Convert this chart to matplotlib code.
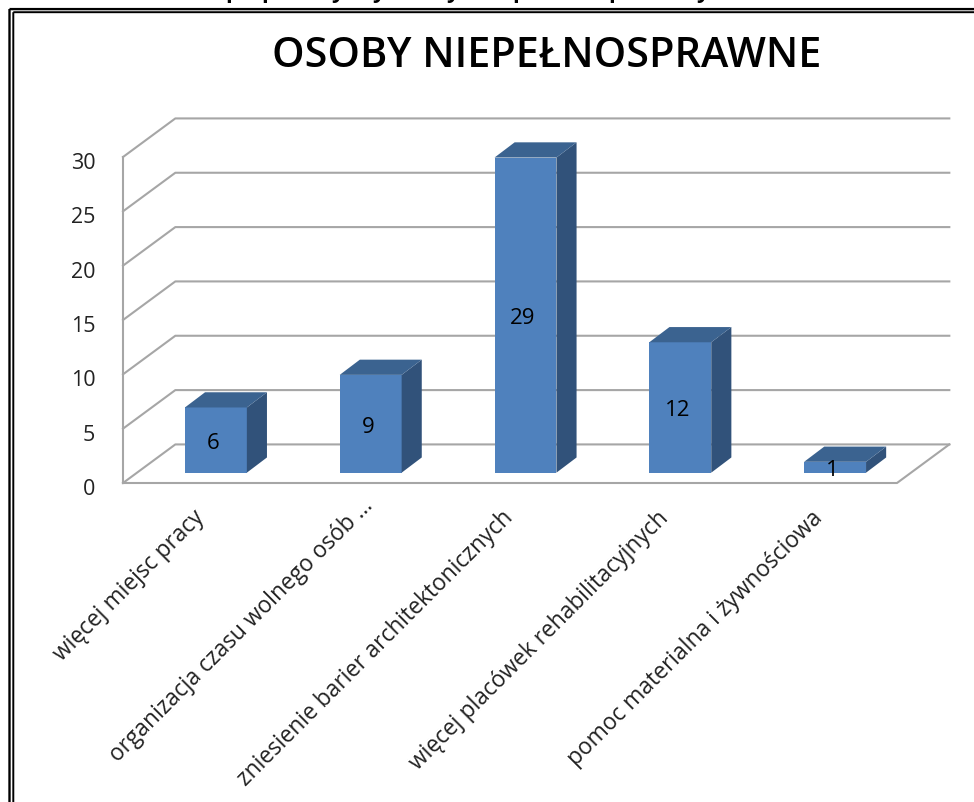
import matplotlib
matplotlib.use('Agg')
import matplotlib.pyplot as plt
from matplotlib.lines import Line2D
from matplotlib.patches import Polygon

categories = ['więcej miejsc pracy', 'organizacja czasu wolnego osób ...',
              'zniesienie barier architektonicznych', 'więcej placówek rehabilitacyjnych',
              'pomoc materialna i żywnościowa']
values = [6, 9, 29, 12, 1]
y_ticks = [0, 5, 10, 15, 20, 25, 30]
title = 'OSOBY NIEPEŁNOSPRAWNE'

# descenders of the cut off line above the frame
cut_chars = ['p', 'p', 'y', 'y', 'y', 'p', 'p', 'y']
cut_x = [232, 268, 337, 378, 452, 519, 615, 702]

W, H = 974, 803
plt.rcParams['font.family'] = ['Open Sans', 'DejaVu Sans']

fig = plt.figure(figsize=(W / 100, H / 100), dpi=100, facecolor='white')
ax = fig.add_axes([123 / W, (H - 484) / H, 774 / W, 326 / H])
ax.set_xlim(0, 5)
ax.set_ylim(0, 30)
ax.axis('off')

# oblique offsets for the 3d look, in data units
depth_x = 0.338
depth_y = 3.55
grid = '#a6a6a6'

# walls and gridlines
for t in y_ticks:
    ax.plot([0, depth_x, 5 + depth_x], [t, t + depth_y, t + depth_y], color=grid, lw=1.5, clip_on=False)
ax.plot([0, 0], [0, 30], color=grid, lw=1.5, clip_on=False)
ax.plot([0, 5, 5 + depth_x], [0, 0, depth_y], color=grid, lw=1.5, clip_on=False)

# bars
bw = 0.40
start_x = 0.1
start_y = 0.95
side_x = 0.13
side_y = 1.4
for i, v in enumerate(values):
    x0 = i + 0.5 - bw / 2 + start_x
    x1 = x0 + bw
    y0 = start_y
    y1 = start_y + v
    ax.add_patch(Polygon([(x0, y0), (x1, y0), (x1, y1), (x0, y1)], fc='#4f81bd', ec='none', zorder=3, clip_on=False))
    ax.add_patch(Polygon([(x1, y0), (x1 + side_x, y0 + side_y), (x1 + side_x, y1 + side_y), (x1, y1)],
                         fc='#31527a', ec='none', zorder=3, clip_on=False))
    ax.add_patch(Polygon([(x0, y1), (x1, y1), (x1 + side_x, y1 + side_y), (x0 + side_x, y1 + side_y)],
                         fc='#3b6390', ec='none', zorder=3, clip_on=False))
    ax.text((x0 + x1) / 2 - 0.018, y1 / 2 + 0.25 if v > 1 else 1.25, str(v), ha='center', va='center',
            fontsize=16, color='black', zorder=4)

for t in y_ticks:
    ax.annotate(str(t), (0, t), xytext=(-20, -4), textcoords='offset points', ha='right', va='center',
                fontsize=15.5, color='#222222', annotation_clip=False)

# rotated category labels end under each bar, the truncated one sits a bit further out
for i, c in enumerate(categories):
    shift = 10 if c.endswith('...') else 0
    ax.annotate(c, (i + 0.5, 0), xytext=(shift, -22 + shift * 0.9), textcoords='offset points', rotation=45,
                rotation_mode='anchor', ha='right', va='center', fontsize=16.4, color='#222222',
                annotation_clip=False)

fig.text(547 / W, 1 - 56 / H, title, ha='center', va='center', fontsize=29.8, color='black', weight='semibold')

for ch, x in zip(cut_chars, cut_x):
    fig.text(x / W, 1 + 2 / H, ch, ha='center', va='baseline', fontsize=16, color='black', weight='bold')

# double page border
for xs, ys, lw in [([9.5, 9.5], [10, H], 1.7), ([13.3, 13.3], [13.2, H], 1.4),
                   ([9.5, W], [10.1, 10.1], 1.7), ([13.3, W], [13.2, 13.2], 1.4)]:
    fig.add_artist(Line2D([x / W for x in xs], [1 - y / H for y in ys], color='black', lw=lw, snap=False,
                          solid_capstyle='butt'))

fig.savefig('out.png', dpi=100)
